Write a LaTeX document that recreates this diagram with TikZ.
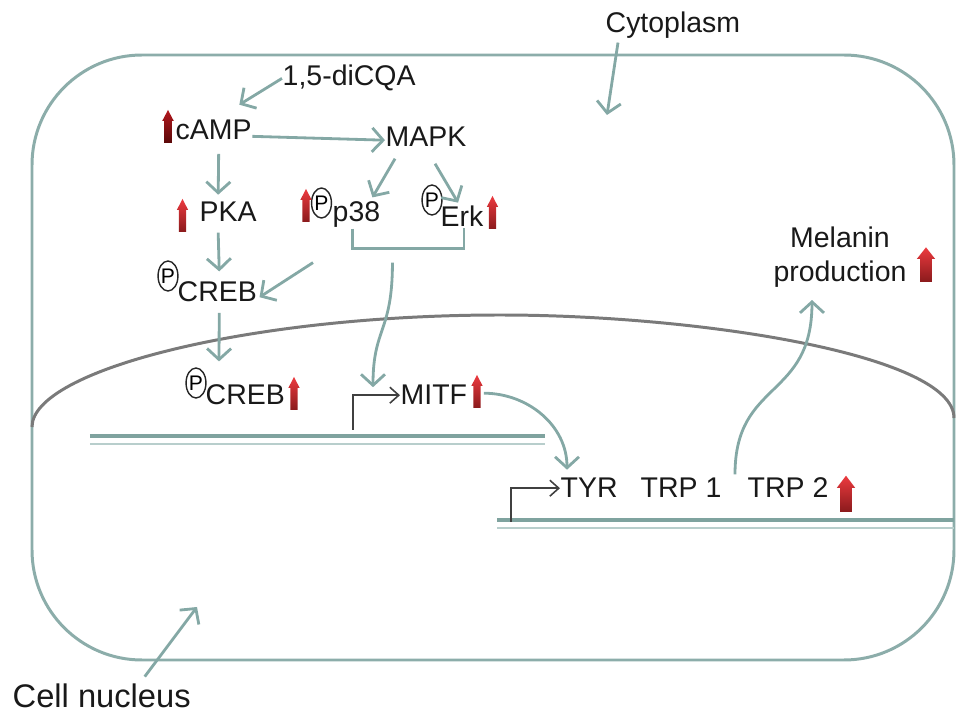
\documentclass[tikz,border=0pt]{standalone}
\usepackage{fontspec}
\setmainfont{Liberation Sans}
\usetikzlibrary{arrows.meta,shapes.geometric}

\definecolor{cellc}{HTML}{8CADAA}
\definecolor{flowc}{HTML}{84A8A5}
\definecolor{nucc}{HTML}{7A7A7A}
\definecolor{dnac}{HTML}{7FA39F}
\definecolor{dnalt}{HTML}{B8CECC}
\definecolor{arrhi}{HTML}{EC3A3F}
\definecolor{arrlo}{HTML}{8A1A1C}
\definecolor{darkhi}{HTML}{B3181D}
\definecolor{darklo}{HTML}{5A0909}

\begin{document}
\begin{tikzpicture}[
    lbl/.style={inner sep=0, anchor=base west, text=black!90, font=\fontsize{8.1pt}{9.7pt}\selectfont},
    phos/.style={ellipse, draw=black!85, line width=0.4pt, inner sep=0, minimum width=0.16cm, minimum height=0.30cm, font=\fontsize{6pt}{6pt}\selectfont},
    flow/.style={draw=flowc, line width=0.8pt, -{Straight Barb[length=1.1mm,width=2.4mm]}},
    bracket/.style={draw=flowc, line width=0.8pt},
    prom/.style={draw=black!75, line width=0.45pt, -{Straight Barb[length=0.9mm,width=1.6mm]}},
    cell/.style={draw=cellc, line width=0.85pt},
    nucline/.style={draw=nucc, line width=0.85pt},
    dnathick/.style={draw=dnac, line width=1.2pt},
    dnathin/.style={draw=dnalt, line width=0.8pt},
    uparr/.pic={\shade[top color=arrhi, bottom color=arrlo] (-0.037,0) -- (-0.037,0.22) -- (-0.057,0.22) -- (0,0.33) -- (0.057,0.22) -- (0.037,0.22) -- (0.037,0) -- cycle;},
    uparrdark/.pic={\shade[top color=darkhi, bottom color=darklo] (-0.04,0) -- (-0.04,0.22) -- (-0.058,0.22) -- (0,0.33) -- (0.058,0.22) -- (0.04,0.22) -- (0.04,0) -- cycle;}]

    \useasboundingbox (0,0) rectangle (9.69,-7.22);

    % cell, nucleus and DNA
    \draw[cell, rounded corners=1.1cm] (0.32,-0.55) rectangle (9.54,-6.60);
    \draw[nucline] (0.32,-4.27) .. controls (0.32,-3.70) and (2.5,-3.15) .. (5.0,-3.15) .. controls (7.0,-3.15) and (9.54,-3.55) .. (9.54,-4.18);
    \draw[dnathick] (0.90,-4.36) -- (5.45,-4.36);
    \draw[dnathin] (0.90,-4.44) -- (5.45,-4.44);
    \draw[dnathick] (4.97,-5.20) -- (9.54,-5.20);
    \draw[dnathin] (4.97,-5.28) -- (9.54,-5.28);

    % labels
    \node[lbl] (cyto) at (6.05,-0.33) {Cytoplasm};
    \node[lbl] (dicqa) at (2.82,-0.86) {1,5-diCQA};
    \node[lbl] (camp) at (1.75,-1.40) {cAMP};
    \node[lbl] (mapk) at (3.85,-1.47) {MAPK};
    \node[lbl] (pka) at (1.99,-2.22) {PKA};
    \node[lbl] (p38) at (3.32,-2.22) {p38};
    \node[lbl] (erk) at (4.40,-2.27) {Erk};
    \node[lbl] (creba) at (1.77,-3.02) {CREB};
    \node[lbl] (crebb) at (2.05,-4.05) {CREB};
    \node[lbl] (mitf) at (4.00,-4.05) {MITF};
    \node[lbl] (tyr) at (5.60,-4.98) {TYR};
    \node[lbl] (trpa) at (6.40,-4.98) {TRP 1};
    \node[lbl] (trpb) at (7.47,-4.98) {TRP 2};
    \node[lbl, anchor=center, align=center] (melanin) at (8.40,-2.57) {Melanin\\production};
    \node[lbl, font=\fontsize{9.3pt}{11pt}\selectfont] (nucl) at (0.12,-7.08) {Cell nucleus};

    % phosphorylation marks
    \node[phos] (phca) at (1.68,-2.76) {P};
    \node[phos] (phpt) at (3.215,-2.03) {P};
    \node[phos] (pher) at (4.32,-2.00) {P};
    \node[phos] (phcb) at (1.96,-3.83) {P};

    % increase arrows
    \pic at (1.68,-1.43) {uparrdark};
    \pic at (1.825,-2.32) {uparr};
    \pic at (3.06,-2.22) {uparr};
    \pic at (4.925,-2.29) {uparr};
    \pic at (2.94,-4.10) {uparr};
    \pic at (4.77,-4.08) {uparr};
    \pic[xscale=1.6, yscale=1.1] at (8.46,-5.12) {uparr};
    \pic[xscale=1.6, yscale=1.05] at (9.26,-2.82) {uparr};

    \coordinate (cytopt) at (6.07,-1.15);
    \coordinate (nuclpt) at (1.97,-6.07);
    \coordinate (proma) at (3.53,-4.30);
    \coordinate (promb) at (5.11,-5.22);

    % signalling
    \draw[flow] ([shift={(0.13,-0.03)}]cyto.south west) -- (cytopt);
    \draw[flow] (dicqa.west) -- ([shift={(-0.13,0.15)}]camp.north east);
    \draw[flow] ([shift={(0,-0.06)}]camp.east) -- ([shift={(0,-0.03)}]mapk.west);
    \draw[flow] ([shift={(0.05,-0.13)}]camp.south) -- ([shift={(-0.10,0.07)}]pka.north);
    \draw[flow] ([shift={(-0.31,-0.11)}]mapk.south) -- ([shift={(0.16,0.04)}]p38.north);
    \draw[flow] ([shift={(0.09,-0.16)}]mapk.south) -- ([shift={(-0.04,0.03)}]erk.north);
    \draw[flow] ([shift={(-0.10,-0.10)}]pka.south) -- ([shift={(0.02,0.10)}]creba.north);
    \draw[flow] ([shift={(-0.19,-0.34)}]p38.south west) -- ([shift={(0.02,-0.05)}]creba.east);
    \draw[bracket] ([shift={(-0.04,0)}]p38.south) -- ++(0,-0.20) coordinate (brl) -| ([shift={(0.02,0)}]erk.south);
    \draw[flow] ([shift={(0.40,-0.14)}]brl) .. controls +(0,-0.70) and +(0,0.60) .. ([shift={(-0.27,0.08)}]mitf.west);
    \draw[flow] ([shift={(0.02,-0.10)}]creba.south) -- ([shift={(0.14,0.23)}]crebb.north west);

    % transcription
    \draw[prom] (proma) |- (mitf.west);
    \draw[prom] (promb) |- (tyr.west);
    \draw[flow] ([shift={(0.16,0.02)}]mitf.east) to[out=0, in=90] ([shift={(0.07,0.08)}]tyr.north west);
    \draw[flow] ([shift={(-0.12,0.03)}]trpb.north west) .. controls +(0,0.95) and +(0,-1.0) .. ([shift={(-0.28,-0.12)}]melanin.south);
    \draw[flow] ([shift={(0.43,0.07)}]nucl.north) -- (nuclpt);
\end{tikzpicture}
\end{document}
